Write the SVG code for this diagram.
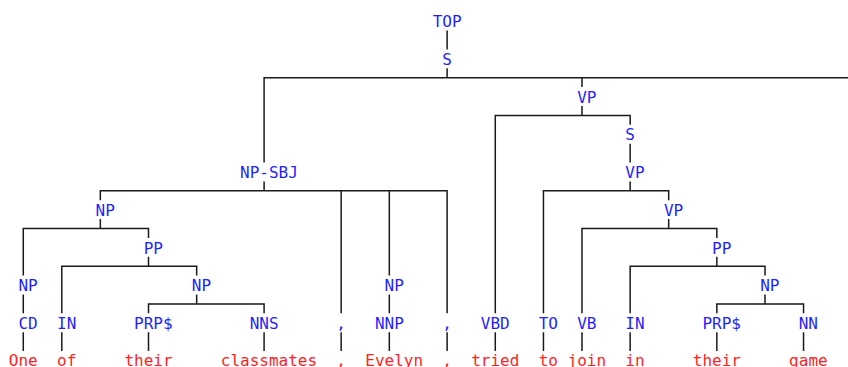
<svg xmlns="http://www.w3.org/2000/svg" width="848" height="367" viewBox="0 0 848 367">
<style>
text{font-family:"DejaVu Sans Mono","Liberation Mono",monospace;font-size:16px;}
.t{fill:#1f1fff;}
.w{fill:#ff1f1f;}
.e{fill:none;stroke:#1a1a1a;stroke-width:1.5;}
</style>
<rect width="848" height="367" fill="#ffffff"/>
<g id="connectors" class="e">
<path d="M447.12 30.6V49.4"/>
<path d="M264.09 162.5V77.7H848M447.12 68.3V77.7M581.98 77.7V87.1"/>
<path d="M495.28 313.3V115.4H630.15V124.8M581.98 106V115.4"/>
<path d="M630.15 143.7V162.5"/>
<path d="M100.33 200.2V190.8H447.12V313.3M264.09 181.4V190.8M341.16 190.8V313.3M389.32 190.8V275.6"/>
<path d="M543.45 313.3V190.8H668.68V200.2M630.15 181.4V190.8"/>
<path d="M23.27 275.6V228.5H148.5V237.9M100.33 219.1V228.5"/>
<path d="M581.98 313.3V228.5H716.84V237.9M668.68 219.1V228.5"/>
<path d="M61.8 313.3V266.2H196.66V275.6M148.5 256.8V266.2"/>
<path d="M630.15 313.3V266.2H765.01V275.6M716.84 256.8V266.2"/>
<path d="M23.27 294.5V313.3M389.32 294.5V313.3"/>
<path d="M148.5 313.3V303.9H264.09V313.3M196.66 294.5V303.9"/>
<path d="M716.84 313.3V303.9H803.54V313.3M765.01 294.5V303.9"/>
<path d="M23.27 332.2V351M61.8 332.2V351M148.5 332.2V351M264.09 332.2V351M341.16 332.2V351M389.32 332.2V351M447.12 332.2V351M495.28 332.2V351M543.45 332.2V351M581.98 332.2V351M630.15 332.2V351M716.84 332.2V351M803.54 332.2V351"/>
</g>
<g id="n-top"><text class="t" x="432.69" y="27.3">TOP</text></g>
<g id="n-s"><text class="t" x="442.32" y="65">S</text></g>
<g id="n-vp1"><text class="t" x="577.18" y="102.7">VP</text></g>
<g id="n-s2"><text class="t" x="625.35" y="140.4">S</text></g>
<g id="n-npsbj"><text class="t" x="240.03" y="178.1">NP-SBJ</text></g>
<g id="n-vp2"><text class="t" x="625.35" y="178.1">VP</text></g>
<g id="n-np1"><text class="t" x="95.53" y="215.8">NP</text></g>
<g id="n-vp3"><text class="t" x="663.88" y="215.8">VP</text></g>
<g id="n-pp1"><text class="t" x="143.7" y="253.5">PP</text></g>
<g id="n-pp2"><text class="t" x="712.04" y="253.5">PP</text></g>
<g id="n-np2"><text class="t" x="18.47" y="291.2">NP</text></g>
<g id="n-np3"><text class="t" x="191.86" y="291.2">NP</text></g>
<g id="n-np4"><text class="t" x="384.52" y="291.2">NP</text></g>
<g id="n-np5"><text class="t" x="760.21" y="291.2">NP</text></g>
<g id="n-cd"><text class="t" x="18.47" y="328.9">CD</text><text class="w" x="8.83" y="366.3">One</text></g>
<g id="n-in1"><text class="t" x="57" y="328.9">IN</text><text class="w" x="57" y="366.3">of</text></g>
<g id="n-prp1"><text class="t" x="134.06" y="328.9">PRP$</text><text class="w" x="124.43" y="366.3">their</text></g>
<g id="n-nns"><text class="t" x="249.66" y="328.9">NNS</text><text class="w" x="220.76" y="366.3">classmates</text></g>
<g id="n-comma1"><text class="t" x="336.36" y="328.9">,</text><text class="w" x="336.36" y="366.3">,</text></g>
<g id="n-nnp"><text class="t" x="374.89" y="328.9">NNP</text><text class="w" x="365.25" y="366.3">Evelyn</text></g>
<g id="n-comma2"><text class="t" x="442.32" y="328.9">,</text><text class="w" x="442.32" y="366.3">,</text></g>
<g id="n-vbd"><text class="t" x="480.85" y="328.9">VBD</text><text class="w" x="471.22" y="366.3">tried</text></g>
<g id="n-to"><text class="t" x="538.65" y="328.9">TO</text><text class="w" x="538.65" y="366.3">to</text></g>
<g id="n-vb"><text class="t" x="577.18" y="328.9">VB</text><text class="w" x="567.55" y="366.3">join</text></g>
<g id="n-in2"><text class="t" x="625.35" y="328.9">IN</text><text class="w" x="625.35" y="366.3">in</text></g>
<g id="n-prp2"><text class="t" x="702.41" y="328.9">PRP$</text><text class="w" x="692.78" y="366.3">their</text></g>
<g id="n-nn"><text class="t" x="798.74" y="328.9">NN</text><text class="w" x="789.11" y="366.3">game</text></g>
</svg>
